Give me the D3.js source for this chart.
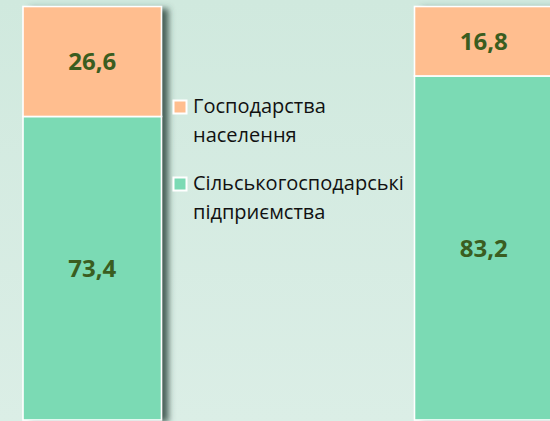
<!DOCTYPE html>
<html>
<head>
<meta charset="utf-8">
<script src="https://cdn.jsdelivr.net/npm/d3@7"></script>
<style>
  html, body { margin: 0; padding: 0; background: #d6ece2; }
  svg { display: block; }
</style>
</head>
<body>
<svg id="chart" width="550" height="421"></svg>
<script>
// Structure of producers, % of total
const categories = ["Період 1", "Період 2"];
const seriesNames = ["Господарства населення", "Сільськогосподарські підприємства"];
const households = [26.6, 16.8];
const enterprises = [73.4, 83.2];
const legendLines = [["Господарства", "населення"], ["Сільськогосподарські", "підприємства"]];
const colors = ["#ffbe8f", "#7bdab4"];

const W = 550, H = 421;
const svg = d3.select("#chart");
const defs = svg.append("defs");

// soft mint backdrop
const bg = defs.append("linearGradient").attr("id", "bg")
  .attr("x1", 0).attr("y1", 0).attr("x2", 0).attr("y2", 1);
bg.append("stop").attr("offset", 0).attr("stop-color", "#d0e9de");
bg.append("stop").attr("offset", 1).attr("stop-color", "#dbeee6");
svg.append("rect").attr("width", W).attr("height", H).attr("fill", "url(#bg)");

// shadow cast to the right of each column
const f = defs.append("filter").attr("id", "shadow")
  .attr("x", "-10%").attr("y", "-5%").attr("width", "130%").attr("height", "115%");
f.append("feDropShadow").attr("dx", 7).attr("dy", 2).attr("stdDeviation", 3.2)
  .attr("flood-color", "#2e4a40").attr("flood-opacity", 0.85);

const x = d3.scaleBand().domain(categories).range([23, 553]).paddingInner(0.6462).paddingOuter(0);
const y = d3.scaleLinear().domain([0, 100]).range([420, 6.5]);

const rows = categories.map((c, i) => ({ cat: c, households: households[i], enterprises: enterprises[i] }));
const stack = d3.stack().keys(["enterprises", "households"]);
const layers = stack(rows);
const layerColor = { enterprises: colors[1], households: colors[0] };

// column shadows drawn underneath
svg.append("g").selectAll("rect").data(categories).join("rect")
  .attr("x", d => x(d)).attr("y", y(100))
  .attr("width", x.bandwidth()).attr("height", y(0) - y(100))
  .attr("fill", "#7a9990").attr("filter", "url(#shadow)");

const g = svg.append("g");
layers.forEach(layer => {
  g.append("g").selectAll("rect").data(layer).join("rect")
    .attr("x", d => x(d.data.cat))
    .attr("y", d => y(d[1]))
    .attr("width", x.bandwidth())
    .attr("height", d => y(d[0]) - y(d[1]))
    .attr("fill", layerColor[layer.key])
    .attr("stroke", "#ffffff").attr("stroke-width", 1.6);
});

// value labels centred in each segment
const fmt = v => d3.format(".1f")(v).replace(".", ",");
layers.forEach(layer => {
  g.append("g").selectAll("text").data(layer).join("text")
    .attr("x", d => x(d.data.cat) + x.bandwidth() / 2)
    .attr("y", d => (y(d[0]) + y(d[1])) / 2)
    .attr("dy", "0.36em")
    .attr("text-anchor", "middle")
    .attr("font-family", "'Open Sans', sans-serif")
    .attr("font-weight", 700)
    .attr("font-size", 24)
    .attr("fill", "#3a5d20")
    .text(d => fmt(d[1] - d[0]));
});

// legend
const legend = svg.append("g").attr("transform", "translate(173.5,100.5)");
const items = legend.selectAll("g").data(seriesNames).join("g")
  .attr("transform", (d, i) => `translate(0,${i * 77})`);
items.append("rect").attr("width", 13).attr("height", 13)
  .attr("fill", (d, i) => colors[i])
  .attr("stroke", "#ffffff").attr("stroke-width", 2);
items.each(function (d, i) {
  const t = d3.select(this).append("text")
    .attr("x", 19.5).attr("y", 12.5)
    .attr("font-family", "'Open Sans', sans-serif")
    .attr("font-size", 20)
    .attr("fill", "#111111");
  legendLines[i].forEach((line, k) => {
    t.append("tspan").attr("x", 19.5).attr("dy", k === 0 ? 0 : 29).text(line);
  });
});
</script>
</body>
</html>
